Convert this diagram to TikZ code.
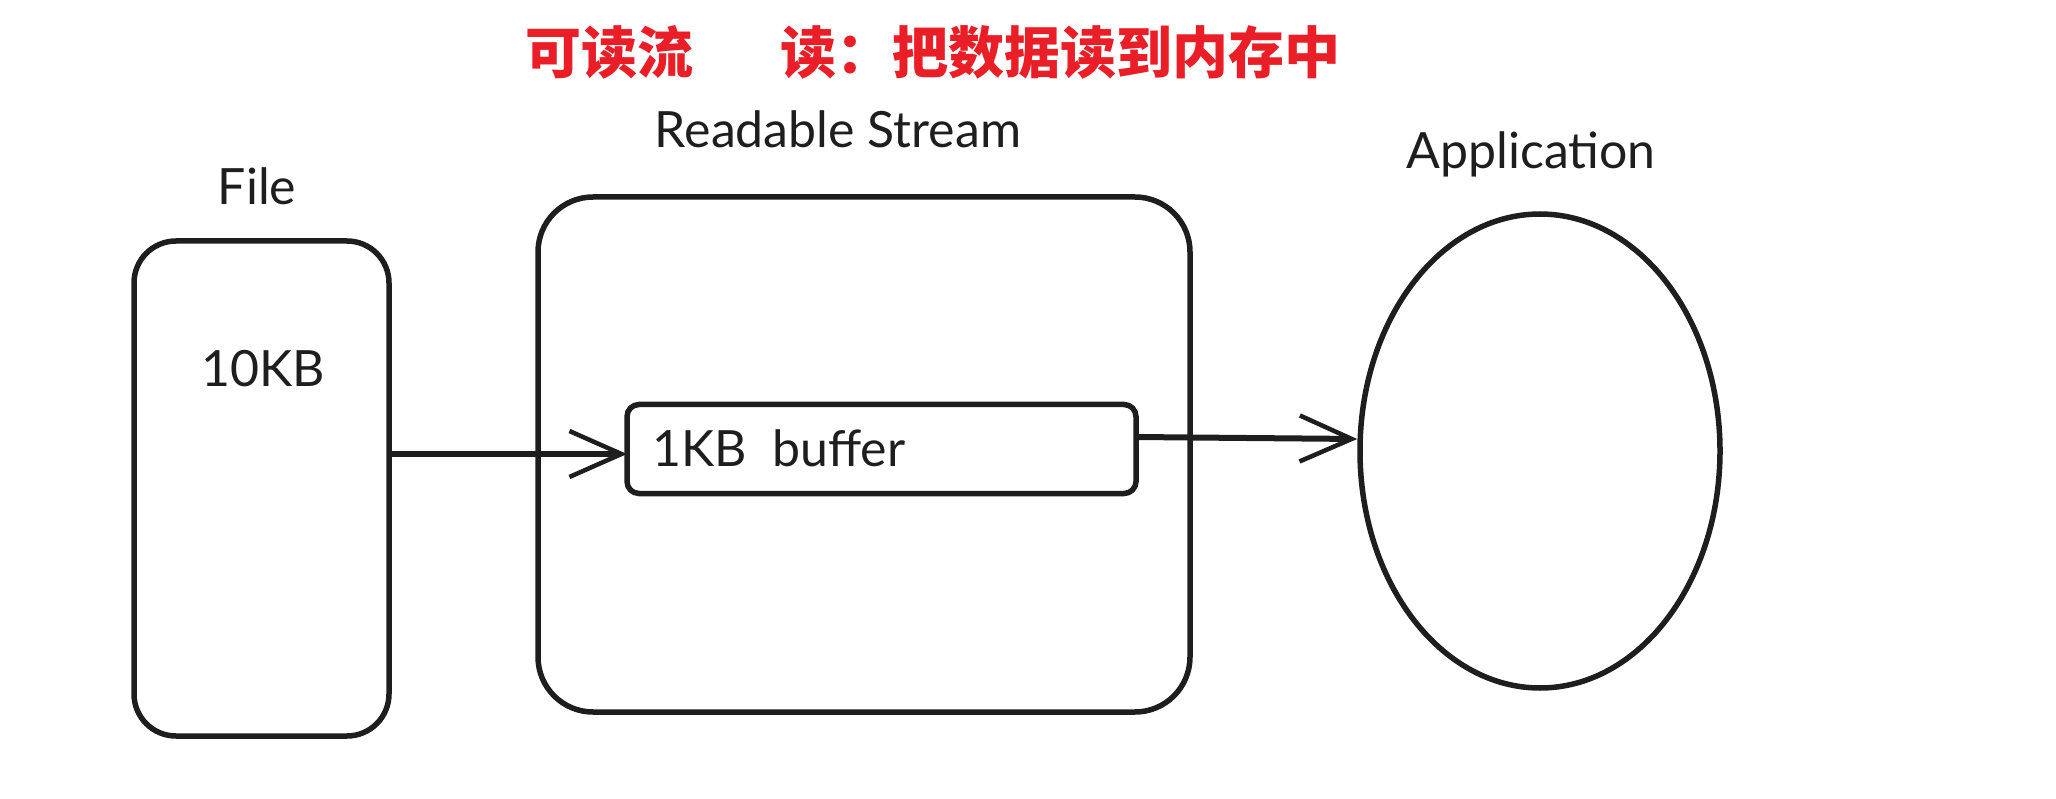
\documentclass[tikz,border=0pt]{standalone}
\usepackage{fontspec}
\setmainfont{Lato}
\newfontfamily\cjk{Noto Sans CJK SC}
\usetikzlibrary{shapes.geometric,arrows.meta}
\definecolor{inkblack}{RGB}{30,30,30}
\definecolor{titlered}{RGB}{233,30,38}
\tikzset{
  box/.style={draw=inkblack,line width=5.5pt,rounded corners=#1,inner sep=0pt,outer sep=0pt},
  flow/.style={draw=inkblack,line width=6pt,-{Straight Barb[length=52pt,width=46pt,line width=4.5pt]}},
  hand/.style={text=inkblack,font=\fontsize{50}{58}\selectfont,inner sep=0pt,anchor=base},
}

\begin{document}
\begin{tikzpicture}[x=1pt,y=-1pt]
\useasboundingbox (0,0) rectangle (2056,799);
% title
\node[text=titlered,font=\cjk\bfseries\fontsize{56}{60}\selectfont,inner sep=0pt] (titleA) at (609,52) {可读流};
\node[text=titlered,font=\cjk\bfseries\fontsize{56}{60}\selectfont,inner sep=0pt] (titleB) at (1060,52) {读：把数据读到内存中};
% boxes
\node[box=42pt,minimum width=255pt,minimum height=495pt] (file) at (261.5,488.5) {};
\node[box=55pt,minimum width=652pt,minimum height=515pt] (stream) at (864,454.5) {};
\node[box=12pt,minimum width=509pt,minimum height=89pt] (buffer) at (881.5,449) {};
\node[draw=inkblack,line width=5.5pt,ellipse,inner sep=0pt,minimum width=360pt,minimum height=474pt] (app) at (1540,451) {};
% labels
\node[hand] (fileLabel) at (257,205) {File};
\node[hand] (streamLabel) at (838,148) {Readable Stream};
\node[hand] (appLabel) at (1531,169) {Application};
\node[hand] (fileSize) at (263,387) {10KB};
\node[hand,anchor=base west] (bufferSize) at (652,466) {1KB\ \ buffer};
% data flow
\draw[flow] ([yshift=-5pt]file.east |- buffer.west) -- ([yshift=-5pt]buffer.west);
\draw[flow] ([yshift=12pt]buffer.east) -- ([yshift=12pt]app.west);
\end{tikzpicture}
\end{document}
